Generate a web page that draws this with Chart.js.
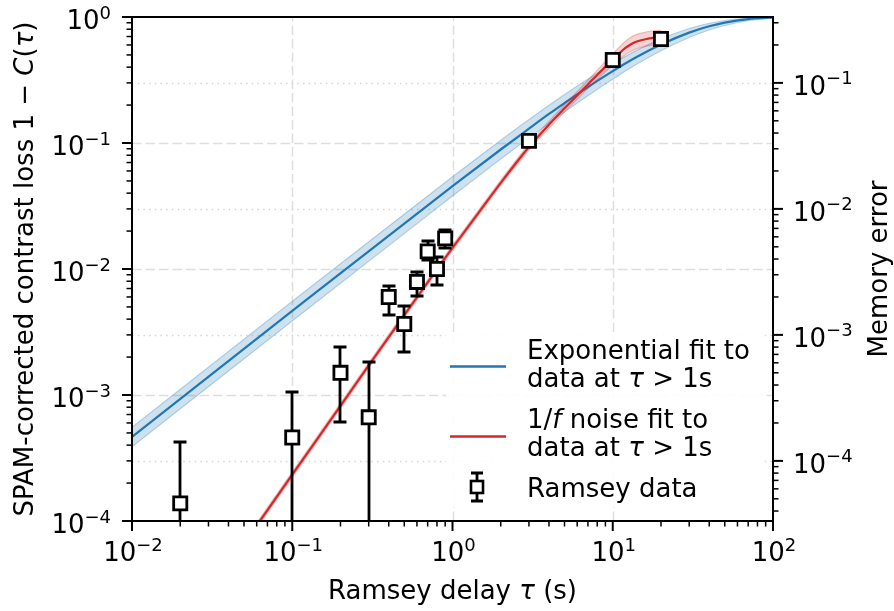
<!DOCTYPE html>
<html>
<head>
<meta charset="utf-8">
<script src="https://cdn.jsdelivr.net/npm/chart.js@4.4.1/dist/chart.umd.min.js"></script>
<style>
  html, body { margin: 0; padding: 0; background: #fff; }
  #wrap { width: 894px; height: 611px; }
</style>
</head>
<body>
<div id="wrap"><canvas id="chart"></canvas></div>
<script>
// --- Ramsey data: delay tau (s) vs SPAM-corrected contrast loss ---
const ramseyTau     = [0.02,    0.1,     0.2,     0.3,     0.4,    0.5,     0.6,    0.7,    0.8,    0.9,    3,     10,    20];
const ramseyLoss    = [1.38e-4, 4.6e-4,  1.50e-3, 6.65e-4, 6.0e-3, 3.66e-3, 7.9e-3, 0.0138, 0.0100, 0.0175, 0.104, 0.456, 0.669];
const ramseyErrLow  = [1e-6,    1e-6,    6.1e-4,  1e-6,    4.3e-3, 2.21e-3, 6.1e-3, 0.0118, 7.5e-3, 0.0146, 0.100, 0.44,  0.65];
const ramseyErrHigh = [4.21e-4, 1.06e-3, 2.39e-3, 1.83e-3, 7.3e-3, 5.1e-3,  9.5e-3, 0.0167, 0.0125, 0.0204, 0.108, 0.47,  0.69];

// --- Exponential fit (blue) with its band ---
const expTau   = [0.01,    0.1,     1,      2,      3,      4,      5,      7,      10,    14,    20,    30,    40,    50,    70,     100];
const expLoss  = [4.65e-4, 4.65e-3, 0.0455, 0.0888, 0.130,  0.170,  0.2075, 0.278,  0.372, 0.479, 0.605, 0.752, 0.844, 0.902, 0.9615, 0.9905];
const expUpper = [5.55e-4, 5.55e-3, 0.0540, 0.1052, 0.1535, 0.1993, 0.2425, 0.322,  0.426, 0.541, 0.671, 0.811, 0.892, 0.938, 0.9795, 0.9961];
const expLower = [3.88e-4, 3.87e-3, 0.0380, 0.0746, 0.1098, 0.1436, 0.1762, 0.2376, 0.321, 0.419, 0.539, 0.687, 0.788, 0.856, 0.934,  0.979];

// --- 1/f noise fit (red) with its band ---
const noiseTau   = [0.05,    0.1,      0.2,     0.3,      0.5,      0.7,      1,      1.5,    2,      3,      4,      5,      6,      7,      8,      9,      10,     11,     12,     13,     14,     16,     18,     20];
const noiseLoss  = [6.6e-5,  2.33e-4,  8.2e-4,  1.72e-3,  4.3e-3,   7.83e-3,  0.0147, 0.0295, 0.0483, 0.093,  0.140,  0.1884, 0.2388, 0.2918, 0.3471, 0.4036, 0.460,  0.516,  0.568,  0.608,  0.636,  0.666,  0.682,  0.688];
const noiseUpper = [6.93e-5, 2.45e-4,  8.61e-4, 1.806e-3, 4.515e-3, 8.22e-3,  0.0154, 0.0310, 0.0507, 0.0986, 0.1491, 0.2016, 0.2567, 0.3151, 0.3783, 0.444,  0.5106, 0.5779, 0.6418, 0.6931, 0.725,  0.7592, 0.7775, 0.7843];
const noiseLower = [6.29e-5, 2.219e-4, 7.81e-4, 1.638e-3, 4.095e-3, 7.457e-3, 0.0140, 0.0281, 0.0460, 0.0877, 0.1315, 0.1761, 0.2221, 0.2702, 0.3184, 0.3669, 0.4144, 0.4607, 0.5027, 0.5333, 0.5579, 0.5842, 0.5982, 0.6035];

// --- axes: tick exponents (labels are 10^e) ---
const xTickExp    = [-2, -1, 0, 1, 2];
const lossTickExp = [-4, -3, -2, -1, 0];
const memTickExp  = [-4, -3, -2, -1];
// right axis: memory error = contrast loss / 3
const memMin = 1e-4 / 3;
const memMax = 1 / 3;

const BLUE = '#1f77b4';
const RED = '#d62728';
const FONT = '"DejaVu Sans", sans-serif';

const pts = (xs, ys) => xs.map((x, i) => ({ x, y: ys[i] }));

function fontOf(r) {
  return `${r.it ? 'italic ' : ''}${r.size || 26}px ${FONT}`;
}

// draw mixed runs of text (regular / italic / superscript) on one baseline
function drawRuns(ctx, runs, x, y, align) {
  let total = 0;
  const widths = runs.map(r => {
    ctx.font = fontOf(r);
    const w = ctx.measureText(r.t).width;
    total += w;
    return w;
  });
  let cx = align === 'center' ? x - total / 2 : (align === 'right' ? x - total : x);
  ctx.textAlign = 'left';
  ctx.textBaseline = 'alphabetic';
  runs.forEach((r, i) => {
    ctx.font = fontOf(r);
    ctx.fillText(r.t, cx, y + (r.dy || 0));
    cx += widths[i];
  });
}

function powRuns(e) {
  const sup = e < 0 ? '\u2212' + Math.abs(e) : String(e);
  return [{ t: '10' }, { t: sup, size: 18, dy: -10.5 }];
}

function minorValues(lo, hi) {
  const out = [];
  for (let e = Math.floor(Math.log10(lo)) - 1; e <= Math.ceil(Math.log10(hi)); e++) {
    for (let k = 2; k <= 9; k++) {
      const v = k * Math.pow(10, e);
      if (v > lo * 1.0001 && v < hi * 0.9999) out.push(v);
    }
  }
  return out;
}

const axesPlugin = {
  id: 'mplAxes',
  beforeDatasetsDraw(chart) {
    const { ctx, chartArea: a, scales } = chart;
    const x = scales.x, y = scales.y, y2 = scales.y2;
    ctx.save();
    ctx.lineWidth = 1.5;
    // dashed grid at the main majors
    ctx.strokeStyle = '#dedede';
    ctx.setLineDash([9.5, 4]);
    xTickExp.slice(1, -1).forEach(e => {
      const px = Math.round(x.getPixelForValue(Math.pow(10, e))) + 0.5;
      ctx.beginPath(); ctx.moveTo(px, a.bottom); ctx.lineTo(px, a.top); ctx.stroke();
    });
    lossTickExp.slice(1, -1).forEach(e => {
      const py = Math.round(y.getPixelForValue(Math.pow(10, e))) + 0.5;
      ctx.beginPath(); ctx.moveTo(a.left, py); ctx.lineTo(a.right, py); ctx.stroke();
    });
    // dotted grid at the memory-error majors
    ctx.strokeStyle = '#d6d6d6';
    ctx.setLineDash([1.5, 4.2]);
    memTickExp.forEach(e => {
      const py = Math.round(y2.getPixelForValue(Math.pow(10, e))) + 0.5;
      ctx.beginPath(); ctx.moveTo(a.left, py); ctx.lineTo(a.right, py); ctx.stroke();
    });
    ctx.setLineDash([]);
    // legend background
    ctx.fillStyle = 'rgba(255,255,255,0.92)';
    ctx.fillRect(446, 332, 316, 175);
    ctx.restore();
  },
  beforeDatasetDraw(chart, args) {
    if (args.index !== 0) return;
    const { ctx, chartArea: a, scales: { x, y } } = chart;
    ctx.save();
    ctx.beginPath();
    ctx.rect(a.left, a.top, a.right - a.left, a.bottom - a.top);
    ctx.clip();
    ctx.setLineDash([]);
    ctx.strokeStyle = '#000';
    ctx.lineWidth = 2.8;
    ctx.lineCap = 'butt';
    ramseyTau.forEach((t, i) => {
      const px = Math.round(x.getPixelForValue(t));
      const hi = Math.round(y.getPixelForValue(ramseyErrHigh[i]));
      const lo = Math.round(y.getPixelForValue(ramseyErrLow[i]));
      ctx.beginPath();
      ctx.moveTo(px, hi); ctx.lineTo(px, lo);
      ctx.moveTo(px - 6.5, hi); ctx.lineTo(px + 6.5, hi);
      ctx.moveTo(px - 6.5, lo); ctx.lineTo(px + 6.5, lo);
      ctx.stroke();
    });
    ctx.restore();
  },
  afterDatasetsDraw(chart) {
    const { ctx, chartArea: a, scales } = chart;
    const x = scales.x, y = scales.y, y2 = scales.y2;
    ctx.save();
    ctx.strokeStyle = '#000';
    ctx.fillStyle = '#000';

    // frame
    ctx.lineWidth = 2;
    ctx.strokeRect(a.left, a.top, a.right - a.left, a.bottom - a.top);

    const tick = (x0, y0, x1, y1, w) => {
      ctx.lineWidth = w;
      ctx.beginPath(); ctx.moveTo(x0, y0); ctx.lineTo(x1, y1); ctx.stroke();
    };

    // bottom ticks
    xTickExp.forEach(e => {
      const px = x.getPixelForValue(Math.pow(10, e));
      tick(px, a.bottom, px, a.bottom + 10, 2);
      drawRuns(ctx, powRuns(e), px + 1, a.bottom + 40, 'center');
    });
    minorValues(1e-2, 1e2).forEach(v => {
      const px = x.getPixelForValue(v);
      tick(px, a.bottom, px, a.bottom + 5.5, 1.5);
    });

    // left ticks
    lossTickExp.forEach(e => {
      const py = y.getPixelForValue(Math.pow(10, e));
      tick(a.left, py, a.left - 10, py, 2);
      drawRuns(ctx, powRuns(e), a.left - 21, py + 12, 'right');
    });
    minorValues(1e-4, 1).forEach(v => {
      const py = y.getPixelForValue(v);
      tick(a.left, py, a.left - 5.5, py, 1.5);
    });

    // right ticks (memory error)
    memTickExp.forEach(e => {
      const py = y2.getPixelForValue(Math.pow(10, e));
      tick(a.right, py, a.right + 10, py, 2);
      drawRuns(ctx, powRuns(e), a.right + 20, py + 12, 'left');
    });
    minorValues(memMin, memMax).forEach(v => {
      const py = y2.getPixelForValue(v);
      tick(a.right, py, a.right + 5.5, py, 1.5);
    });

    // axis titles
    const midY = (a.top + a.bottom) / 2;
    drawRuns(ctx, [{ t: 'Ramsey delay ' }, { t: '\u03c4', it: true }, { t: ' (s)' }],
      (a.left + a.right) / 2, 599, 'center');

    ctx.save();
    ctx.translate(33, midY);
    ctx.rotate(-Math.PI / 2);
    drawRuns(ctx, [
      { t: 'SPAM-corrected contrast loss 1 \u2212 ' },
      { t: 'C', it: true }, { t: '(' }, { t: '\u03c4', it: true }, { t: ')' }
    ], 0, 0, 'center');
    ctx.restore();

    ctx.save();
    ctx.translate(887, midY);
    ctx.rotate(-Math.PI / 2);
    drawRuns(ctx, [{ t: 'Memory error' }], 0, 0, 'center');
    ctx.restore();

    // legend
    ctx.lineWidth = 2.6;
    ctx.strokeStyle = BLUE;
    ctx.beginPath(); ctx.moveTo(450, 366.5); ctx.lineTo(506, 366.5); ctx.stroke();
    ctx.strokeStyle = RED;
    ctx.beginPath(); ctx.moveTo(450, 436.5); ctx.lineTo(506, 436.5); ctx.stroke();

    ctx.strokeStyle = '#000';
    ctx.lineWidth = 2.8;
    ctx.beginPath();
    ctx.moveTo(477, 473); ctx.lineTo(477, 501);
    ctx.moveTo(471, 473); ctx.lineTo(483, 473);
    ctx.moveTo(471, 501); ctx.lineTo(483, 501);
    ctx.stroke();
    ctx.fillStyle = '#fff';
    ctx.lineWidth = 2.6;
    ctx.fillRect(471, 481, 12, 12);
    ctx.strokeRect(471, 481, 12, 12);

    ctx.fillStyle = '#000';
    const lx = 527;
    drawRuns(ctx, [{ t: 'Exponential fit to' }], lx, 358.5, 'left');
    drawRuns(ctx, [{ t: 'data at ' }, { t: '\u03c4', it: true }, { t: ' > 1s' }], lx, 387, 'left');
    drawRuns(ctx, [{ t: '1/' }, { t: 'f', it: true }, { t: ' noise fit to' }], lx, 427.5, 'left');
    drawRuns(ctx, [{ t: 'data at ' }, { t: '\u03c4', it: true }, { t: ' > 1s' }], lx, 455.5, 'left');
    drawRuns(ctx, [{ t: 'Ramsey data' }], lx, 497, 'left');

    ctx.restore();
  }
};

const bandLine = (color) => ({ borderColor: color, borderWidth: 1.2, pointRadius: 0, cubicInterpolationMode: 'monotone' });

new Chart(document.getElementById('chart'), {
  type: 'line',
  data: {
    datasets: [
      {
        label: 'Ramsey data', data: pts(ramseyTau, ramseyLoss), showLine: false,
        pointStyle: 'rect', pointRadius: 9.3, pointBackgroundColor: '#fff',
        pointBorderColor: '#000', pointBorderWidth: 2.8, order: 0
      },
      {
        label: 'exp upper', data: pts(expTau, expUpper), ...bandLine('rgba(31,119,180,0.28)'),
        fill: '+1', backgroundColor: 'rgba(31,119,180,0.22)', order: 6
      },
      { label: 'exp lower', data: pts(expTau, expLower), ...bandLine('rgba(31,119,180,0.28)'), fill: false, order: 6 },
      {
        label: 'Exponential fit to data at tau > 1s', data: pts(expTau, expLoss), borderColor: BLUE,
        borderWidth: 2.2, pointRadius: 0, cubicInterpolationMode: 'monotone', fill: false, order: 5
      },
      {
        label: 'noise upper', data: pts(noiseTau, noiseUpper), ...bandLine('rgba(214,39,40,0.25)'),
        fill: '+1', backgroundColor: 'rgba(214,39,40,0.2)', order: 4
      },
      { label: 'noise lower', data: pts(noiseTau, noiseLower), ...bandLine('rgba(214,39,40,0.25)'), fill: false, order: 4 },
      {
        label: '1/f noise fit to data at tau > 1s', data: pts(noiseTau, noiseLoss), borderColor: RED,
        borderWidth: 2.2, pointRadius: 0, cubicInterpolationMode: 'monotone', fill: false, order: 3
      }
    ]
  },
  options: {
    responsive: true,
    maintainAspectRatio: false,
    animation: false,
    events: [],
    layout: { padding: { left: 132, right: 121, top: 17, bottom: 90 } },
    scales: {
      x: { type: 'logarithmic', min: 1e-2, max: 1e2, display: false },
      y: { type: 'logarithmic', min: 1e-4, max: 1, display: false },
      y2: { type: 'logarithmic', position: 'right', min: memMin, max: memMax, display: false }
    },
    plugins: { legend: { display: false }, tooltip: { enabled: false } }
  },
  plugins: [axesPlugin]
});
</script>
</body>
</html>
